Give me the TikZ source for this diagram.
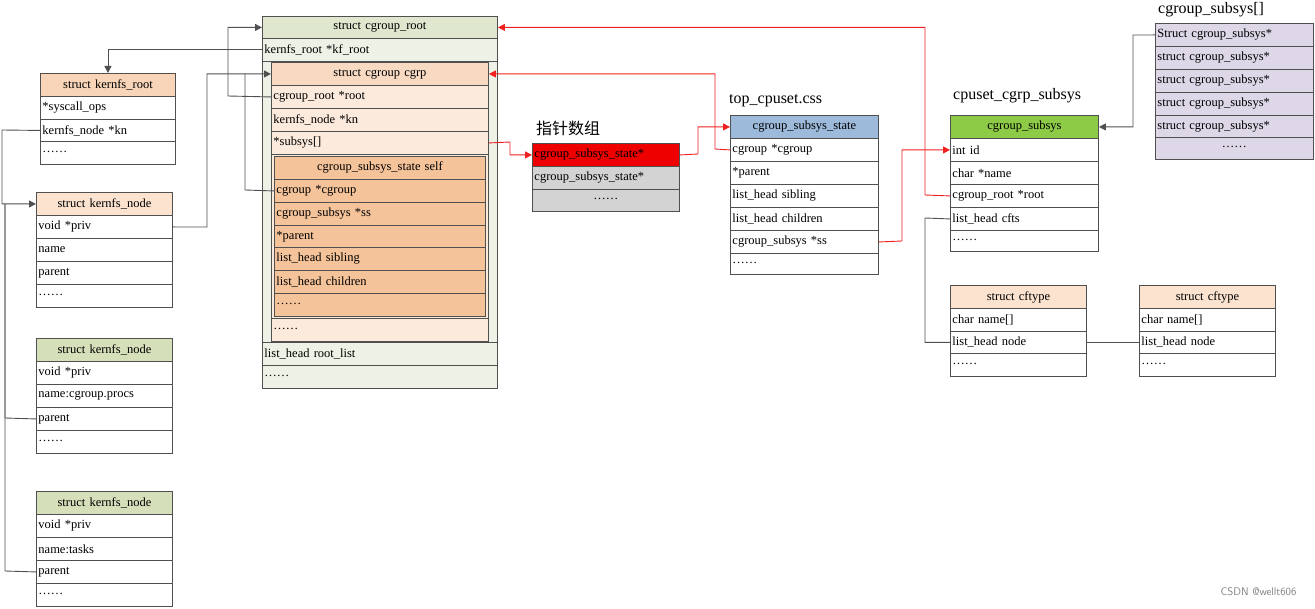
\documentclass[tikz,border=0pt]{standalone}
\usepackage{fontspec}
\setmainfont{Liberation Serif}
\newfontfamily\cjk{Noto Sans CJK SC}
\usetikzlibrary{arrows.meta}
\definecolor{grT}{HTML}{DFE7CF}
\definecolor{grB}{HTML}{EEF2E6}
\definecolor{pcT}{HTML}{F8DAC2}
\definecolor{pcB}{HTML}{FCEADC}
\definecolor{orS}{HTML}{F5C39A}
\definecolor{krT}{HTML}{F8D5B8}
\definecolor{knT}{HTML}{FBE3CF}
\definecolor{kgT}{HTML}{D5DFB9}
\definecolor{rd}{HTML}{EE0000}
\definecolor{gy}{HTML}{D3D3D3}
\definecolor{blT}{HTML}{9DBADB}
\definecolor{gnT}{HTML}{8DCB47}
\definecolor{lv}{HTML}{DDD7E8}
\definecolor{ln}{HTML}{505050}
\definecolor{rl}{HTML}{F02020}
\tikzset{x=1pt,y=-1pt,
 rowst/.style={draw=ln,line width=0.9pt,inner sep=2pt,font=\fontsize{12.5}{14}\selectfont},
 lk/.style={draw=ln,line width=0.9pt},
 lka/.style={lk,-{Triangle[length=7pt,width=7pt]}},
 rk/.style={draw=rl,line width=0.9pt},
 rka/.style={rk,-{Triangle[length=7pt,width=7pt]}},
 lab/.style={font=\fontsize{16}{18}\selectfont,inner sep=0pt}}
% name x1 y1 x2 y2 fill text ; left aligned
\newcommand\rw[7]{\node[rowst,fill=#6,text width={(#4-#2-4)*1pt},align=left,minimum height={(#5-#3)*1pt},anchor=north west] (#1) at (#2,#3) {#7};}
\newcommand\rt[7]{\node[rowst,fill=#6,text width={(#4-#2-4)*1pt},align=center,minimum height={(#5-#3)*1pt},anchor=north west] (#1) at (#2,#3) {#7};}
\begin{document}
\begin{tikzpicture}
\useasboundingbox (0,0) rectangle (1315,609);
% cgroup_root
\rt{cr}{262}{16}{497}{38}{grT}{struct cgroup\_root}
\rw{crkf}{262}{38}{497}{61}{grB}{kernfs\_root *kf\_root}
\rw{crin}{262}{61}{497}{342}{grB}{}
\rw{crl}{262}{342}{497}{365}{grB}{list\_head root\_list}
\rw{cre}{262}{365}{497}{388}{grB}{\raisebox{3pt}{……}}
% cgrp
\rt{cg}{271}{62}{488}{85}{pcT}{struct cgroup cgrp}
\rw{cgr}{271}{85}{488}{108}{pcB}{cgroup\_root *root}
\rw{cgk}{271}{108}{488}{131}{pcB}{kernfs\_node *kn}
\rw{cgs}{271}{131}{488}{154}{pcB}{*subsys[]}
\rw{cgin}{271}{154}{488}{318}{pcB}{}
\rw{cge}{271}{318}{488}{341}{pcB}{\raisebox{3pt}{……}}
% self
\rt{sf}{274}{156}{485}{179}{orS}{cgroup\_subsys\_state self}
\rw{sfc}{274}{179}{485}{202}{orS}{cgroup *cgroup}
\rw{sfs}{274}{202}{485}{225}{orS}{cgroup\_subsys *ss}
\rw{sfp}{274}{225}{485}{247}{orS}{*parent}
\rw{sfsb}{274}{247}{485}{270}{orS}{list\_head sibling}
\rw{sfch}{274}{270}{485}{293}{orS}{list\_head children}
\rw{sfe}{274}{293}{485}{316}{orS}{\raisebox{3pt}{……}}
% kernfs_root
\rt{kr}{40}{73}{175}{96}{krT}{struct kernfs\_root}
\rw{krs}{40}{96}{175}{119}{white}{*syscall\_ops}
\rw{krk}{40}{119}{175}{141}{white}{kernfs\_node *kn}
\rw{kre}{40}{141}{175}{164}{white}{\raisebox{3pt}{……}}
% kernfs_node 1
\rt{ka}{36}{192}{172}{215}{knT}{struct kernfs\_node}
\rw{kap}{36}{215}{172}{238}{white}{void *priv}
\rw{kan}{36}{238}{172}{261}{white}{name}
\rw{kapa}{36}{261}{172}{284}{white}{parent}
\rw{kae}{36}{284}{172}{307}{white}{\raisebox{3pt}{……}}
% kernfs_node 2
\rt{kb}{36}{338}{172}{361}{kgT}{struct kernfs\_node}
\rw{kbp}{36}{361}{172}{384}{white}{void *priv}
\rw{kbn}{36}{384}{172}{407}{white}{name:cgroup.procs}
\rw{kbpa}{36}{407}{172}{430}{white}{parent}
\rw{kbe}{36}{430}{172}{453}{white}{\raisebox{3pt}{……}}
% kernfs_node 3
\rt{kc}{36}{491}{172}{514}{kgT}{struct kernfs\_node}
\rw{kcp}{36}{514}{172}{537}{white}{void *priv}
\rw{kcn}{36}{537}{172}{560}{white}{name:tasks}
\rw{kcpa}{36}{560}{172}{583}{white}{parent}
\rw{kce}{36}{583}{172}{606}{white}{\raisebox{3pt}{……}}
% pointer array
\node[lab,anchor=west] (pal) at (536,128) {\cjk 指针数组};
\rw{pa}{532}{143}{679}{166}{rd}{cgroup\_subsys\_state*}
\rw{pb}{532}{166}{679}{189}{gy}{cgroup\_subsys\_state*}
\rt{pe}{532}{189}{679}{211}{gy}{\raisebox{3pt}{……}}
% top_cpuset.css
\node[lab,anchor=west] (csl) at (729,101) {top\_cpuset.css};
\rt{cs}{730}{115}{878}{138}{blT}{cgroup\_subsys\_state}
\rw{csc}{730}{138}{878}{161}{white}{cgroup *cgroup}
\rw{csp}{730}{161}{878}{184}{white}{*parent}
\rw{cssb}{730}{184}{878}{207}{white}{list\_head sibling}
\rw{csch}{730}{207}{878}{230}{white}{list\_head children}
\rw{css}{730}{230}{878}{253}{white}{cgroup\_subsys *ss}
\rw{cse}{730}{253}{878}{274}{white}{\raisebox{3pt}{……}}
% cpuset_cgrp_subsys
\node[lab,anchor=west] (cpl) at (953,96) {cpuset\_cgrp\_subsys};
\rt{cp}{950}{115}{1098}{138}{gnT}{cgroup\_subsys}
\rw{cpi}{950}{138}{1098}{161}{white}{int id}
\rw{cpn}{950}{161}{1098}{184}{white}{char *name}
\rw{cpr}{950}{184}{1098}{207}{white}{cgroup\_root *root}
\rw{cpc}{950}{207}{1098}{230}{white}{list\_head cfts}
\rw{cpe}{950}{230}{1098}{251}{white}{\raisebox{3pt}{……}}
% cgroup_subsys[]
\node[lab,anchor=west] (arl) at (1158,10) {cgroup\_subsys[]};
\rw{ar1}{1155}{23}{1313}{46}{lv}{Struct cgroup\_subsys*}
\rw{ar2}{1155}{46}{1313}{69}{lv}{struct cgroup\_subsys*}
\rw{ar3}{1155}{69}{1313}{92}{lv}{struct cgroup\_subsys*}
\rw{ar4}{1155}{92}{1313}{115}{lv}{struct cgroup\_subsys*}
\rw{ar5}{1155}{115}{1313}{137}{lv}{struct cgroup\_subsys*}
\rt{are}{1155}{137}{1313}{159}{lv}{\raisebox{3pt}{……}}
% cftype 1
\rt{ft}{950}{285}{1086}{308}{knT}{struct cftype}
\rw{ftn}{950}{308}{1086}{331}{white}{char name[]}
\rw{ftl}{950}{331}{1086}{353}{white}{list\_head node}
\rw{fte}{950}{353}{1086}{376}{white}{\raisebox{3pt}{……}}
% cftype 2
\rt{gt}{1139}{285}{1275}{308}{knT}{struct cftype}
\rw{gtn}{1139}{308}{1275}{331}{white}{char name[]}
\rw{gtl}{1139}{331}{1275}{353}{white}{list\_head node}
\rw{gte}{1139}{353}{1275}{376}{white}{\raisebox{3pt}{……}}
\node[anchor=east,text=gray,font=\fontsize{11}{12}\selectfont\sffamily] (wm) at (1300,592) {CSDN @wellt606};
% connectors (gray)
\draw[lka] (crkf.west) -| (kr.north);
\draw[lka] (krk.west) -- (2,130) |- (ka.west);
\draw[lk] (kbpa.west) -- (5,418) -- (5,204);
\draw[lk] (kcpa.west) -- (5,571) -- (5,204);
\draw[lka] (kap.east) -- (207,227) |- (cg.west);
\draw[lka] (cgr.west) -- (228,96) |- (cr.west);
\draw[lk] (sfc.west) -- (245,190) -- (245,73.5);
\draw[lka] (ar1.west) -- (1133,35) |- (cp.east);
\draw[lk] (cpc.west) -- (925,218) |- (ftl.west);
\draw[lk] (ftl.east) -- (gtl.west);
% connectors (red)
\draw[rka] (cgs.east) -- (510,142) |- (pa.west);
\draw[rka] (pa.east) -- (698,154) |- (cs.west);
\draw[rka] (csc.west) -- (715,149) |- (cg.east);
\draw[rka] (css.east) -- (902,241) |- (cpi.west);
\draw[rka] (cpr.west) -- (925,195) |- (cr.east);
\end{tikzpicture}
\end{document}
